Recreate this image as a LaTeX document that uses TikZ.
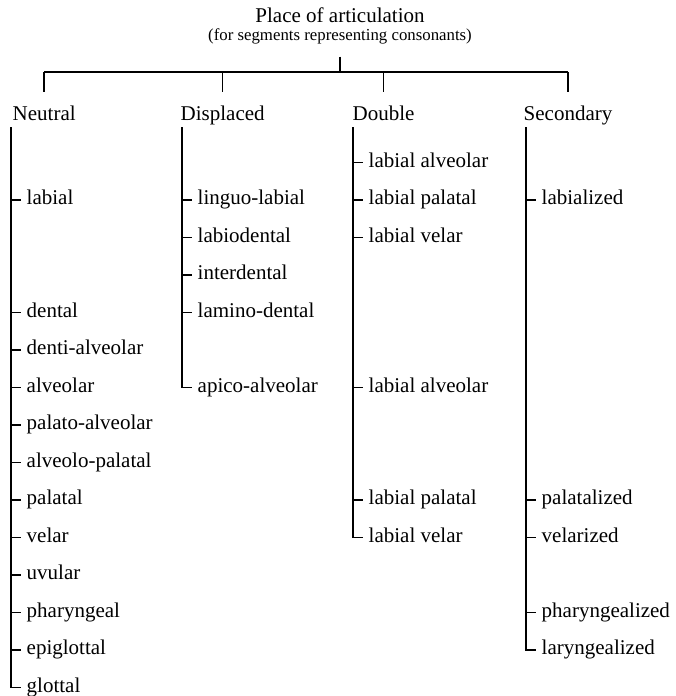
\documentclass[tikz,border=0pt]{standalone}
\usepackage{fontspec}
\setmainfont{Liberation Serif}
\begin{document}
\begin{tikzpicture}[x=.5pt,y=-.5pt,line width=.7pt]
\tikzstyle{every node} = [inner sep=0pt,font=\fontsize{10.5}{12}\selectfont]
\tikzstyle{item} = [anchor=west,inner sep=2.5pt,text height=7.2pt,text depth=2.3pt]
\useasboundingbox (0,0) rectangle (675,696);

\node [anchor=base] (title) at (340,22) {Place of articulation};
\node [anchor=base,font=\fontsize{8.4}{10}\selectfont] (sub) at (340,40) {(for segments representing consonants)};
\coordinate (bar) at (0,72);

\node [anchor=base west] (neu) at (12,120) {Neutral};
\node [anchor=base west] (dis) at (180,120) {Displaced};
\node [anchor=base west] (dbl) at (352,120) {Double};
\node [anchor=base west] (sec) at (523,120) {Secondary};

\coordinate (nl) at (11,127);
\coordinate (dl) at (182,127);
\coordinate (bl) at (353,127);
\coordinate (sl) at (526,127);

\node [item] (n1) at (21,200) {labial};
\node [item] (n2) at (21,312.5) {dental};
\node [item] (n3) at (21,350) {denti-alveolar};
\node [item] (n4) at (21,387.5) {alveolar};
\node [item] (n5) at (21,425) {palato-alveolar};
\node [item] (n6) at (21,462.5) {alveolo-palatal};
\node [item] (n7) at (21,500) {palatal};
\node [item] (n8) at (21,537.5) {velar};
\node [item] (n9) at (21,575) {uvular};
\node [item] (n10) at (21,612.5) {pharyngeal};
\node [item] (n11) at (21,650) {epiglottal};
\node [item] (n12) at (21,687.5) {glottal};

\node [item] (d1) at (192,200) {linguo-labial};
\node [item] (d2) at (192,237.5) {labiodental};
\node [item] (d3) at (192,275) {interdental};
\node [item] (d4) at (192,312.5) {lamino-dental};
\node [item] (d5) at (192,387.5) {apico-alveolar};

\node [item] (b1) at (363,162.5) {labial alveolar};
\node [item] (b2) at (363,200) {labial palatal};
\node [item] (b3) at (363,237.5) {labial velar};
\node [item] (b4) at (363,387.5) {labial alveolar};
\node [item] (b5) at (363,500) {labial palatal};
\node [item] (b6) at (363,537.5) {labial velar};

\node [item] (s1) at (536,200) {labialized};
\node [item] (s2) at (536,500) {palatalized};
\node [item] (s3) at (536,537.5) {velarized};
\node [item] (s4) at (536,612.5) {pharyngealized};
\node [item] (s5) at (536,650) {laryngealized};

\draw [shorten <=6.2pt] (sub.south) -- (sub.south |- bar);
\draw (neu.north |- bar) -- (sec.north |- bar);
\draw [shorten >=6.4pt] (neu.north |- bar) -- (neu.north);
\draw [shorten >=6.4pt] (dis.north |- bar) -- (dis.north);
\draw [shorten >=6.4pt] (dbl.north |- bar) -- (dbl.north);
\draw [shorten >=6.4pt] (sec.north |- bar) -- (sec.north);

\draw (nl) |- (n12);
\draw (nl |- n1) -- (n1);
\draw (nl |- n2) -- (n2);
\draw (nl |- n3) -- (n3);
\draw (nl |- n4) -- (n4);
\draw (nl |- n5) -- (n5);
\draw (nl |- n6) -- (n6);
\draw (nl |- n7) -- (n7);
\draw (nl |- n8) -- (n8);
\draw (nl |- n9) -- (n9);
\draw (nl |- n10) -- (n10);
\draw (nl |- n11) -- (n11);

\draw (dl) |- (d5);
\draw (dl |- d1) -- (d1);
\draw (dl |- d2) -- (d2);
\draw (dl |- d3) -- (d3);
\draw (dl |- d4) -- (d4);

\draw (bl) |- (b6);
\draw (bl |- b1) -- (b1);
\draw (bl |- b2) -- (b2);
\draw (bl |- b3) -- (b3);
\draw (bl |- b4) -- (b4);
\draw (bl |- b5) -- (b5);

\draw (sl) |- (s5);
\draw (sl |- s1) -- (s1);
\draw (sl |- s2) -- (s2);
\draw (sl |- s3) -- (s3);
\draw (sl |- s4) -- (s4);
\end{tikzpicture}
\end{document}
